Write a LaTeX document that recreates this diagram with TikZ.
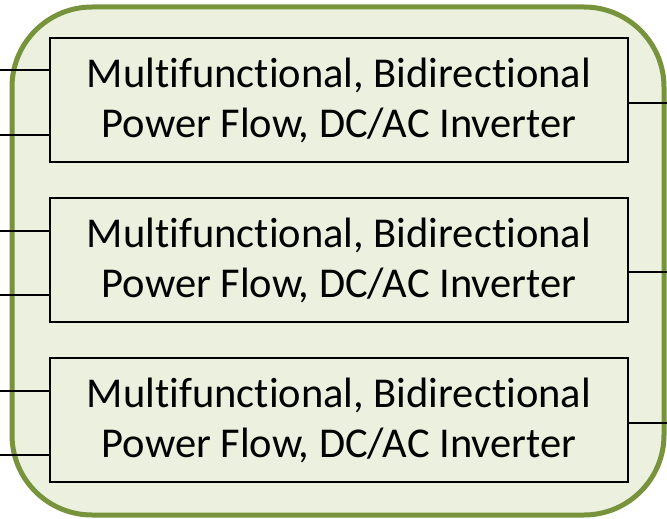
\documentclass[tikz,border=0pt]{standalone}
\usepackage{fontspec}
\setmainfont{Carlito}[Ligatures={NoCommon}]
\definecolor{olivefill}{HTML}{EBF1DE}
\definecolor{oliveline}{HTML}{77933C}
\begin{document}
\begin{tikzpicture}[x=1pt, y=-1pt]
        \tikzstyle{inverter}=[rectangle, fill=olivefill, draw=black, line width=2pt, minimum width=578pt, minimum height=124pt, align=center, inner sep=0pt, font=\fontsize{42.5}{50}\selectfont, text=black]
        \tikzstyle{wire}=[black, line width=2pt]
        \tikzstyle{frame}=[draw=oliveline, fill=olivefill, line width=5pt, rounded corners=80pt]

        \useasboundingbox (0,0) rectangle (667,519);
        \draw[frame] (12,7) rectangle (664,515);

        \node[inverter] (inv1) at (339,100)   {Multifunctional, Bidirectional \\ Power Flow, DC/AC Inverter};
        \node[inverter] (inv2) at (339,260)   {Multifunctional, Bidirectional \\ Power Flow, DC/AC Inverter};
        \node[inverter] (inv3) at (339,420)   {Multifunctional, Bidirectional \\ Power Flow, DC/AC Inverter};

        % free ends at the left and right edges
        \coordinate (in1a) at (0,70);   \coordinate (in1b) at (0,135);
        \coordinate (in2a) at (0,231);  \coordinate (in2b) at (0,295);
        \coordinate (in3a) at (0,391);  \coordinate (in3b) at (0,455);
        \coordinate (out1) at (667,103);
        \coordinate (out2) at (667,272);
        \coordinate (out3) at (667,423);

        \draw[wire] (in1a) -- (in1a -| inv1.west);
        \draw[wire] (in1b) -- (in1b -| inv1.west);
        \draw[wire] (in2a) -- (in2a -| inv2.west);
        \draw[wire] (in2b) -- (in2b -| inv2.west);
        \draw[wire] (in3a) -- (in3a -| inv3.west);
        \draw[wire] (in3b) -- (in3b -| inv3.west);

        \draw[wire] (out1 -| inv1.east) -- (out1);
        \draw[wire] (out2 -| inv2.east) -- (out2);
        \draw[wire] (out3 -| inv3.east) -- (out3);
    \end{tikzpicture}
\end{document}
